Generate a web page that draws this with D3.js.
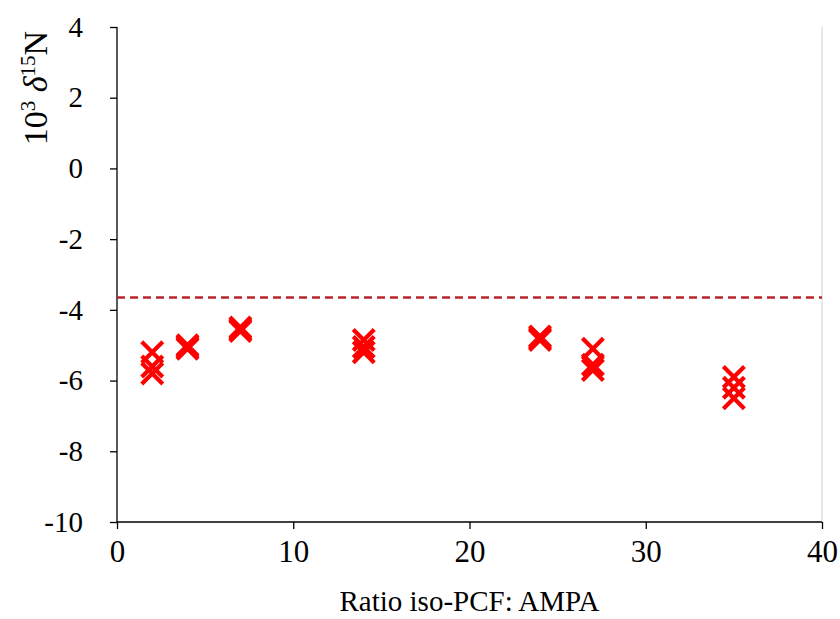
<!DOCTYPE html>
<html>
<head>
<meta charset="utf-8">
<script src="https://cdn.jsdelivr.net/npm/d3@7"></script>
<style>
  html, body { margin: 0; padding: 0; background: #fff; }
  svg { display: block; font-family: "Liberation Serif", "Times New Roman", serif; }
</style>
</head>
<body>
<svg id="chart" width="840" height="619"></svg>
<script>
// Measured δ15N values (×10³) against the iso-PCF : AMPA ratio
const ratios = [2, 2, 2, 4, 4, 4, 7, 7, 7, 14, 14, 14, 24, 24, 24, 27, 27, 27, 35, 35, 35];
const delta15N = [-5.2, -5.6, -5.8, -5.0, -5.05, -5.1, -4.5, -4.55, -4.6, -4.85, -5.05, -5.2,
                  -4.75, -4.8, -4.85, -5.1, -5.55, -5.7, -5.9, -6.2, -6.5];
const referenceLevel = -3.65;   // dashed horizontal reference
const xTicks = [0, 10, 20, 30, 40];
const yTicks = [4, 2, 0, -2, -4, -6, -8, -10];

const svg = d3.select("#chart");
const margin = { left: 117, right: 18, top: 27, bottom: 97 };
const W = 840, H = 619;

const x = d3.scaleLinear().domain([0, 40]).range([margin.left, W - margin.right]);
const y = d3.scaleLinear().domain([-10, 4]).range([H - margin.bottom, margin.top]);

// plot-area border on the right
svg.append("line")
  .attr("x1", x(40)).attr("x2", x(40))
  .attr("y1", y(4)).attr("y2", y(-10))
  .attr("stroke", "#d0d0d0").attr("stroke-width", 1);

// axes
const xAxis = svg.append("g")
  .attr("transform", `translate(0,${y(-10)})`)
  .call(d3.axisBottom(x).tickValues(xTicks).tickSize(7).tickPadding(11).tickFormat(d3.format("d")));
const yAxis = svg.append("g")
  .attr("transform", `translate(${x(0)},0)`)
  .call(d3.axisLeft(y).tickValues(yTicks).tickSize(7).tickPadding(27).tickFormat(d => d < 0 ? "-" + Math.abs(d) : d));

[xAxis, yAxis].forEach(g => {
  g.attr("font-size", null).attr("font-family", null);
  g.select(".domain").attr("stroke", "#000").attr("stroke-width", 1.3);
  g.selectAll(".tick line").attr("stroke", "#000").attr("stroke-width", 1.3);
  g.selectAll(".tick text")
    .attr("fill", "#000")
    .style("font-family", "'Liberation Serif', 'Times New Roman', serif");
});
xAxis.selectAll(".tick text").style("font-size", "31px");
yAxis.selectAll(".tick text").style("font-size", "29px");
xAxis.select(".domain").attr("d", `M${x(0)},0H${x(40)}`);
yAxis.select(".domain").attr("d", `M0,${y(4)}V${y(-10)}`);

// dashed reference line
svg.append("line")
  .attr("x1", x(0)).attr("x2", x(40))
  .attr("y1", y(referenceLevel)).attr("y2", y(referenceLevel))
  .attr("stroke", "#b8262a").attr("stroke-width", 2.4)
  .attr("stroke-dasharray", "8,5");

// cross markers
const half = 10.5;
const pts = ratios.map((r, i) => ({ r, v: delta15N[i] }));
svg.append("g").selectAll("path")
  .data(pts)
  .join("path")
  .attr("d", d => {
    const cx = x(d.r), cy = y(d.v);
    return `M${cx - half},${cy - half}L${cx + half},${cy + half}M${cx - half},${cy + half}L${cx + half},${cy - half}`;
  })
  .attr("stroke", "#ff0000")
  .attr("stroke-width", 4.2)
  .attr("fill", "none");

// axis titles
svg.append("text")
  .attr("x", (x(0) + x(40)) / 2)
  .attr("y", 611)
  .attr("text-anchor", "middle")
  .style("font-size", "29px")
  .attr("fill", "#000")
  .text("Ratio iso-PCF: AMPA");

const yt = svg.append("text")
  .attr("transform", "translate(47,88) rotate(-90)")
  .attr("text-anchor", "middle")
  .style("font-size", "34px")
  .attr("fill", "#000");
yt.append("tspan").text("10");
yt.append("tspan").attr("baseline-shift", "super").style("font-size", "21px").text("3");
yt.append("tspan").text(" ");
yt.append("tspan").style("font-style", "italic").text("δ");
yt.append("tspan").attr("baseline-shift", "super").style("font-size", "21px").text("15");
yt.append("tspan").text("N");
</script>
</body>
</html>
